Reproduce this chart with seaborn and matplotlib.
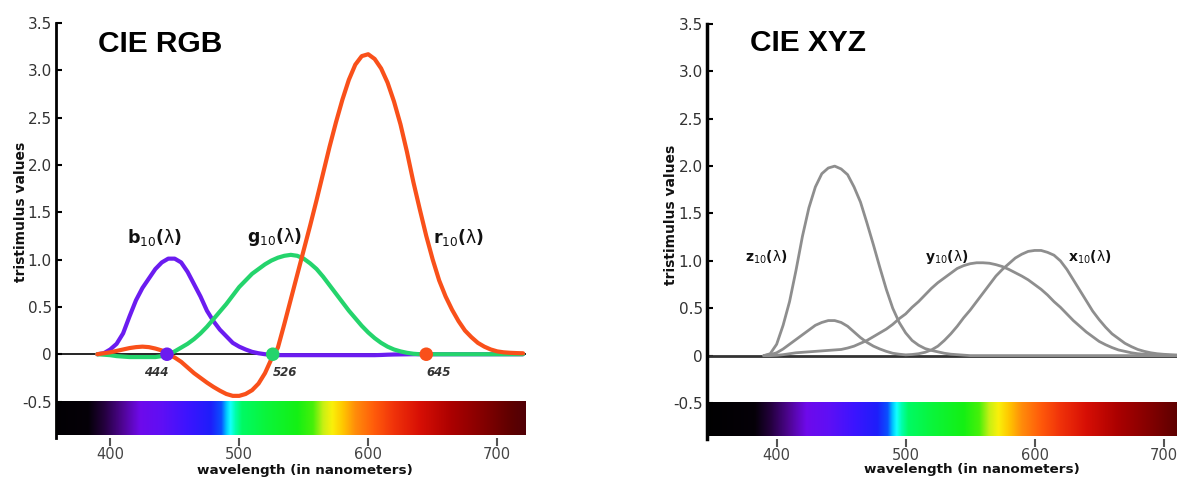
import numpy as np
import pandas as pd
import matplotlib
matplotlib.use("Agg")
import matplotlib.pyplot as plt
import seaborn as sns

# ---------------------------------------------------------------- data
wavelength = list(range(390, 725, 5))  # nm, 390 ... 720

# CIE 1964 10-degree RGB colour-matching functions
b10 = [0.0, 0.01, 0.05, 0.11, 0.22, 0.40, 0.57, 0.70, 0.80, 0.90,
       0.97, 1.01, 1.01, 0.97, 0.87, 0.74, 0.61, 0.46, 0.35, 0.26,
       0.19, 0.12, 0.08, 0.05, 0.025, 0.01, 0.0, -0.008, -0.01, -0.01,
       -0.01, -0.01, -0.01, -0.01, -0.01, -0.01, -0.01, -0.01, -0.01, -0.01,
       -0.01, -0.01, -0.01, -0.01, -0.008, -0.005, -0.003, -0.002, -0.001, 0.0,
       0.0, 0.0, 0.0, 0.0, 0.0, 0.0, 0.0, 0.0, 0.0, 0.0,
       0.0, 0.0, 0.0, 0.0, 0.0, 0.0, 0.0]
g10 = [0.0, -0.005, -0.01, -0.02, -0.025, -0.03, -0.03, -0.03, -0.03, -0.03,
       -0.02, 0.0, 0.03, 0.07, 0.11, 0.16, 0.22, 0.29, 0.37, 0.45,
       0.53, 0.62, 0.71, 0.78, 0.85, 0.90, 0.95, 0.99, 1.02, 1.04,
       1.05, 1.04, 1.01, 0.96, 0.90, 0.82, 0.73, 0.64, 0.55, 0.46,
       0.38, 0.30, 0.23, 0.17, 0.12, 0.08, 0.05, 0.03, 0.015, 0.005,
       0.0, 0.0, 0.0, 0.0, 0.0, 0.0, 0.0, 0.0, 0.0, 0.0,
       0.0, 0.0, 0.0, 0.0, 0.0, 0.0, 0.0]
r10 = [0.0, 0.01, 0.02, 0.035, 0.05, 0.065, 0.075, 0.08, 0.075, 0.06,
       0.04, 0.0, -0.035, -0.08, -0.14, -0.20, -0.25, -0.30, -0.345, -0.385,
       -0.42, -0.44, -0.44, -0.42, -0.38, -0.31, -0.20, -0.05, 0.07, 0.32,
       0.58, 0.84, 1.10, 1.36, 1.63, 1.91, 2.19, 2.45, 2.69, 2.90,
       3.06, 3.15, 3.17, 3.12, 3.02, 2.87, 2.67, 2.43, 2.14, 1.82,
       1.53, 1.25, 1.00, 0.78, 0.61, 0.47, 0.35, 0.25, 0.18, 0.12,
       0.08, 0.05, 0.03, 0.02, 0.015, 0.012, 0.01]

# CIE 1964 10-degree XYZ colour-matching functions
x10 = [0.0, 0.01, 0.03, 0.07, 0.12, 0.17, 0.22, 0.27, 0.32, 0.35,
       0.37, 0.37, 0.35, 0.31, 0.25, 0.19, 0.14, 0.10, 0.07, 0.045,
       0.025, 0.015, 0.008, 0.012, 0.02, 0.035, 0.06, 0.10, 0.16, 0.23,
       0.31, 0.40, 0.48, 0.57, 0.66, 0.75, 0.84, 0.91, 0.97, 1.03,
       1.07, 1.10, 1.11, 1.11, 1.09, 1.06, 1.00, 0.91, 0.80, 0.69,
       0.58, 0.47, 0.38, 0.30, 0.23, 0.18, 0.13, 0.095, 0.065, 0.045,
       0.03, 0.02, 0.014, 0.01, 0.007, 0.005, 0.003]
y10 = [0.0, 0.0, 0.003, 0.01, 0.02, 0.03, 0.035, 0.04, 0.045, 0.05,
       0.055, 0.06, 0.065, 0.08, 0.10, 0.13, 0.16, 0.20, 0.24, 0.28,
       0.33, 0.39, 0.44, 0.51, 0.57, 0.64, 0.71, 0.77, 0.82, 0.87,
       0.92, 0.95, 0.97, 0.98, 0.98, 0.975, 0.96, 0.94, 0.91, 0.875,
       0.84, 0.80, 0.75, 0.70, 0.64, 0.57, 0.51, 0.44, 0.37, 0.31,
       0.25, 0.20, 0.15, 0.115, 0.085, 0.06, 0.045, 0.03, 0.02, 0.015,
       0.01, 0.007, 0.005, 0.003, 0.002, 0.001, 0.0]
z10 = [0.0, 0.02, 0.12, 0.32, 0.57, 0.90, 1.26, 1.56, 1.78, 1.92,
       1.98, 2.00, 1.97, 1.91, 1.78, 1.62, 1.40, 1.17, 0.93, 0.70,
       0.50, 0.35, 0.24, 0.16, 0.11, 0.075, 0.055, 0.04, 0.025, 0.015,
       0.01, 0.005, 0.0, 0.0, 0.0, 0.0, 0.0, 0.0, 0.0, 0.0,
       0.0, 0.0, 0.0, 0.0, 0.0, 0.0, 0.0, 0.0, 0.0, 0.0,
       0.0, 0.0, 0.0, 0.0, 0.0, 0.0, 0.0, 0.0, 0.0, 0.0,
       0.0, 0.0, 0.0, 0.0, 0.0, 0.0, 0.0]

# primary wavelengths of the CIE RGB system
primary_nm = [444, 526, 645]
primary_names = ["b", "g", "r"]

x_ticks = [400, 500, 600, 700]
y_ticks = [-0.5, 0, 0.5, 1.0, 1.5, 2.0, 2.5, 3.0, 3.5]
y_tick_labels = ["-0.5", "0", "0.5", "1.0", "1.5", "2.0", "2.5", "3.0", "3.5"]

# colours of the spectrum strip (nm -> RGB)
spectrum_nm = [340, 383, 395, 410, 423, 440, 460, 478, 486, 490, 493, 497,
               502, 520, 545, 557, 565, 572, 580, 590, 605, 620, 640, 665,
               690, 710, 730]
spectrum_rgb = [(0, 0, 0), (5, 0, 8), (35, 0, 60), (80, 5, 150),
                (110, 10, 235), (95, 15, 245), (60, 20, 255), (30, 30, 250),
                (10, 80, 255), (0, 200, 255), (20, 255, 255), (0, 255, 170),
                (0, 250, 100), (10, 245, 60), (20, 240, 20), (70, 240, 10),
                (200, 240, 20), (250, 240, 10), (255, 200, 0), (255, 140, 10),
                (255, 90, 10), (240, 50, 10), (215, 15, 5), (170, 0, 0),
                (130, 0, 0), (95, 0, 0), (70, 0, 10)]

# ---------------------------------------------------------------- style
sns.set_theme(style="white")
plt.rcParams["font.family"] = ["DejaVu Sans"]
plt.rcParams["mathtext.fontset"] = "dejavusans"
plt.rcParams["lines.solid_joinstyle"] = "round"
plt.rcParams["lines.solid_capstyle"] = "round"

RGB_COLORS = {"b": "#6B1CF0", "g": "#24D46C", "r": "#F9501A"}
GRAY = "#8E8E8E"
Y_BOTTOM, Y_TOP = -0.88, 3.5
STRIP = (-0.85, -0.5)
X_RIGHT = 722


def curve_label(letter):
    return r"$\mathbf{%s}_{10}\mathbf{(}\mathrm{\lambda}\mathbf{)}$" % letter


def spectrum_strip(ax, x0, x1):
    xs = np.linspace(x0, x1, 900)
    arr = np.array(spectrum_rgb, dtype=float) / 255.0
    img = np.stack([np.interp(xs, spectrum_nm, arr[:, k]) for k in range(3)], axis=-1)
    ax.imshow(img[np.newaxis, :, :], extent=[x0, x1, STRIP[0], STRIP[1]],
              aspect="auto", interpolation="bilinear", zorder=0)


def style_axes(ax, x0, spine_lw):
    ax.set_xlim(x0, X_RIGHT)
    ax.set_ylim(Y_BOTTOM, Y_TOP)
    for side in ("top", "right", "bottom"):
        ax.spines[side].set_visible(False)
    ax.spines["left"].set_color("black")
    ax.spines["left"].set_linewidth(spine_lw)
    ax.set_xticks(x_ticks)
    ax.set_xticklabels([str(t) for t in x_ticks])
    ax.set_yticks(y_ticks)
    ax.set_yticklabels(y_tick_labels)
    ax.tick_params(axis="x", direction="out", length=5.5, width=1.5,
                   color="#555555", labelcolor="#444444", labelsize=10.5,
                   pad=1.0, bottom=True)
    ax.tick_params(axis="y", direction="in", length=4, width=1.5,
                   color="black", labelcolor="#333333", labelsize=11,
                   pad=3, left=True)
    ax.set_xlabel("wavelength (in nanometers)", fontsize=9.7,
                  fontweight="bold", color="#111111")
    ax.set_ylabel("tristimulus values", fontsize=10, fontweight="bold",
                  color="#111111")
    ax.grid(False)


fig = plt.figure(figsize=(11.77, 4.79), dpi=100)
fig.patch.set_facecolor("white")

# ---------------------------------------------------------------- CIE RGB
ax1 = fig.add_axes([56 / 1177, 1 - 437.5 / 479, 469.6 / 1177, 414.5 / 479])
spectrum_strip(ax1, 358, X_RIGHT)
ax1.axhline(0, color="black", lw=1.2, zorder=1)

rgb_df = pd.DataFrame({
    "wavelength": wavelength * 3,
    "value": b10 + g10 + r10,
    "curve": ["b"] * len(b10) + ["g"] * len(g10) + ["r"] * len(r10),
})
sns.lineplot(data=rgb_df, x="wavelength", y="value", hue="curve",
             hue_order=["b", "g", "r"], palette=RGB_COLORS, lw=3.0,
             legend=False, sort=False, ax=ax1, zorder=2)

prim_df = pd.DataFrame({"wavelength": primary_nm, "value": [0, 0, 0],
                        "curve": primary_names})
sns.scatterplot(data=prim_df, x="wavelength", y="value", hue="curve",
                palette=RGB_COLORS, s=95, linewidth=0, legend=False,
                ax=ax1, zorder=4)
for nm, ha, dx in zip(primary_nm, ["right", "left", "left"], [1.5, 0, 0]):
    ax1.text(nm + dx, -0.19, str(nm), ha=ha, va="center", fontsize=8.5,
             fontweight="bold", fontstyle="italic", color="#333333")

for letter, xpos in zip(["b", "g", "r"], [412.8, 505.7, 650.0]):
    ax1.text(xpos, 1.235, curve_label(letter), ha="left", va="center",
             fontsize=12.5, color="#111111")

ax1.text(390.6, 3.196, "CIE RGB", fontsize=21.5, fontweight="bold",
         family=["Liberation Sans", "DejaVu Sans"], ha="left",
         va="baseline", color="black")
style_axes(ax1, 358, 2.0)
ax1.xaxis.set_label_coords(0.530, -0.063)
ax1.yaxis.set_label_coords(-0.059, 0.544)

# ---------------------------------------------------------------- CIE XYZ
ax2 = fig.add_axes([707 / 1177, 1 - 439 / 479, 485 / 1177, 415 / 479])
spectrum_strip(ax2, 346, X_RIGHT)
ax2.axhline(0, color="#333333", lw=2.0, zorder=1)

xyz_df = pd.DataFrame({
    "wavelength": wavelength * 3,
    "value": x10 + y10 + z10,
    "curve": ["x"] * len(x10) + ["y"] * len(y10) + ["z"] * len(z10),
})
sns.lineplot(data=xyz_df, x="wavelength", y="value", hue="curve",
             palette={"x": GRAY, "y": GRAY, "z": GRAY}, lw=2.0,
             legend=False, sort=False, ax=ax2, zorder=2)

for letter, xpos in zip(["z", "y", "x"], [375.5, 515.0, 626.0]):
    ax2.text(xpos, 1.04, curve_label(letter), ha="left", va="center",
             fontsize=10, color="#111111")

ax2.text(379.0, 3.21, "CIE XYZ", fontsize=21.5, fontweight="bold",
         family=["Liberation Sans", "DejaVu Sans"], ha="left",
         va="baseline", color="black")
style_axes(ax2, 346, 2.5)
ax2.xaxis.set_label_coords(0.546, -0.059)
ax2.yaxis.set_label_coords(-0.059, 0.539)

fig.savefig("out.png", dpi=100, facecolor="white")
